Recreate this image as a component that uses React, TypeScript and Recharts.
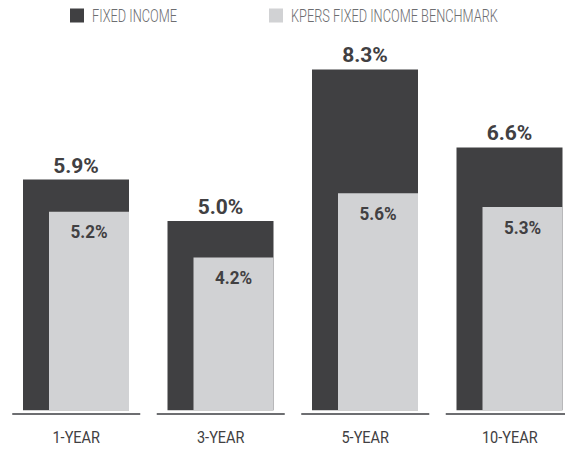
import { BarChart, Bar, XAxis, YAxis, Legend, LabelList } from "recharts";

const categories = ["1-YEAR", "3-YEAR", "5-YEAR", "10-YEAR"];
const fixedIncome = [5.9, 5.0, 8.3, 6.6];
const benchmark = [5.2, 4.2, 5.6, 5.3];
const seriesNames = ["FIXED INCOME", "KPERS FIXED INCOME BENCHMARK"];

const DARK = "#404042";
const LIGHT = "#d1d2d4";
const TEXT = "#414042";
const FONT = "Roboto, 'DejaVu Sans', sans-serif";

const data = categories.map((name, i) => ({
  name,
  fixed: fixedIncome[i],
  bench: benchmark[i],
}));

const pct = (v: number) => `${Number(v).toFixed(1)}%`;

// text squeezed horizontally to mimic a condensed face
const CondText = ({ x, y, sx = 1, size, weight = "normal", fill = TEXT, anchor = "middle", children }: any) => (
  <text
    transform={`translate(${x} ${y}) scale(${sx} 1)`}
    x={0}
    y={0}
    textAnchor={anchor}
    fontSize={size}
    fontWeight={weight}
    fontFamily={FONT}
    fill={fill}
  >
    {children}
  </text>
);

// category label + its own short baseline segment
const YearTick = ({ x, y, payload }: any) => (
  <g>
    <line x1={x - 64} x2={x + 64} y1={y + 3.5} y2={y + 3.5} stroke="#6d6e71" strokeWidth={2} />
    <CondText x={x} y={y + 32} size={17.3} sx={0.84}>
      {payload.value}
    </CondText>
  </g>
);

const TopLabel = (props: any) => {
  const vb = props.viewBox || props;
  return (
    <CondText x={vb.x + vb.width / 2} y={vb.y - 7} size={21} weight="bold">
      {pct(props.value)}
    </CondText>
  );
};

const InnerLabel = (props: any) => {
  const vb = props.viewBox || props;
  return (
    <CondText x={vb.x + vb.width / 2} y={vb.y + 26.5} size={18} sx={0.95} weight="bold">
      {pct(props.value)}
    </CondText>
  );
};

const legendItems = [
  { label: seriesNames[0], color: DARK, x: 70 },
  { label: seriesNames[1], color: LIGHT, x: 269 },
];

const TopLegend = () => (
  <svg width={586} height={30}>
    {legendItems.map((it) => (
      <g key={it.label}>
        <rect x={it.x} y={8.5} width={14} height={14} fill={it.color} />
        <CondText x={it.x + 22} y={22} size={18} sx={0.71} fill="#6d6e71" anchor="start" weight={300}>
          {it.label}
        </CondText>
      </g>
    ))}
  </svg>
);

export default function App() {
  return (
    <div
      style={{
        position: "absolute",
        left: 0,
        top: 0,
        width: 565,
        height: 449,
        overflow: "hidden",
        background: "#fff",
      }}
    >
      <BarChart
        width={586}
        height={449}
        data={data}
        margin={{ top: 40, right: 4, bottom: 0, left: 4 }}
        barGap={-80}
      >
        <XAxis
          dataKey="name"
          axisLine={false}
          tickLine={false}
          tickSize={0}
          tickMargin={0}
          height={38.5}
          interval={0}
          tick={<YearTick />}
        />
        <YAxis hide type="number" domain={[0.87, 8.94]} allowDataOverflow />
        <Legend
          layout="horizontal"
          verticalAlign="middle"
          align="center"
          wrapperStyle={{ top: 0, left: 0, width: 586, height: 30 }}
          content={() => <TopLegend />}
        />
        <Bar dataKey="fixed" name={seriesNames[0]} fill={DARK} barSize={106} isAnimationActive={false}>
          <LabelList dataKey="fixed" content={<TopLabel />} />
        </Bar>
        <Bar dataKey="bench" name={seriesNames[1]} fill={LIGHT} barSize={80} isAnimationActive={false}>
          <LabelList dataKey="bench" content={<InnerLabel />} />
        </Bar>
      </BarChart>
    </div>
  );
}
